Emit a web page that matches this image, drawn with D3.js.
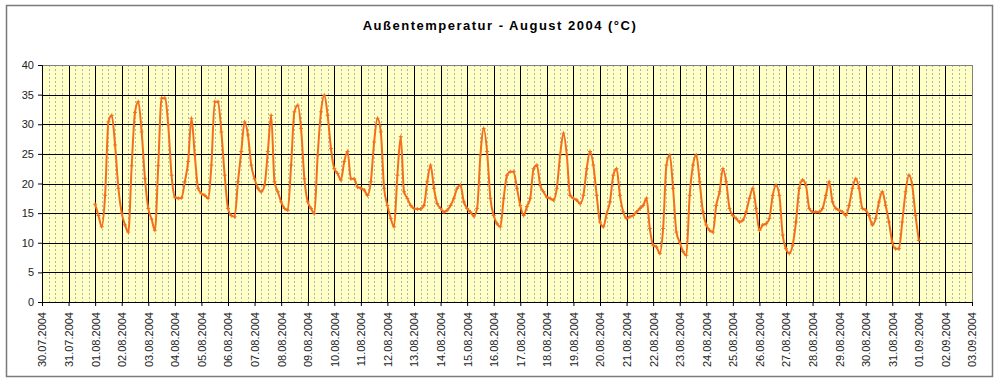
<!DOCTYPE html>
<html>
<head>
<meta charset="utf-8">
<script src="https://cdn.jsdelivr.net/npm/d3@7"></script>
<style>
  body { margin: 0; background: #fff; }
  svg { display: block; font-family: Arial, "Liberation Sans", sans-serif; }
</style>
</head>
<body>
<svg id="chart" width="1000" height="382"></svg>
<script>
// chart data
var title = "Außentemperatur - August 2004 (°C)";
var dayLabels = ["30.07.2004","31.07.2004","01.08.2004","02.08.2004","03.08.2004","04.08.2004",
  "05.08.2004","06.08.2004","07.08.2004","08.08.2004","09.08.2004","10.08.2004","11.08.2004",
  "12.08.2004","13.08.2004","14.08.2004","15.08.2004","16.08.2004","17.08.2004","18.08.2004",
  "19.08.2004","20.08.2004","21.08.2004","22.08.2004","23.08.2004","24.08.2004","25.08.2004",
  "26.08.2004","27.08.2004","28.08.2004","29.08.2004","30.08.2004","31.08.2004","01.09.2004",
  "02.09.2004","03.09.2004"];
var yTicks = [0, 5, 10, 15, 20, 25, 30, 35, 40];
var startDay = 2;      // readings start on 01.08.2004 00:00
var stepHours = 3;     // one reading every 3 hours
// temperature readings, every 3 hours from 01.08.2004 00:00
var temps = [
  16.5, 14.6, 12.7, 18.0, 30.4, 31.5, 26.5, 19.2,
  15.0, 13.0, 11.8, 23.0, 32.0, 33.8, 28.7, 20.8,
  15.8, 14.0, 12.1, 23.0, 34.4, 34.4, 29.9, 21.4,
  17.7, 17.5, 17.6, 20.3, 23.7, 31.0, 24.8, 19.2,
  18.3, 18.0, 17.5, 23.1, 33.8, 33.8, 28.7, 21.4,
  15.8, 14.6, 14.4, 20.3, 25.4, 30.4, 28.2, 23.1,
  20.8, 19.2, 18.6, 19.7, 25.4, 31.5, 20.3, 18.6,
  16.9, 15.8, 15.5, 23.1, 32.1, 33.2, 29.3, 20.8,
  16.9, 15.8, 14.9, 24.8, 32.1, 34.9, 31.5, 25.9,
  22.5, 21.7, 20.6, 23.7, 25.4, 20.8, 20.8, 19.4,
  19.2, 18.9, 18.0, 20.3, 27.0, 31.0, 28.7, 19.2,
  16.3, 14.1, 12.7, 21.4, 27.9, 18.6, 17.5, 16.3,
  15.8, 15.7, 15.7, 16.3, 20.3, 23.1, 19.2, 16.6,
  15.8, 15.2, 15.5, 16.3, 17.5, 19.2, 19.7, 16.9,
  15.8, 15.2, 14.5, 15.8, 24.8, 29.3, 25.4, 17.5,
  14.6, 13.2, 12.7, 17.5, 21.4, 22.0, 22.0, 19.2,
  16.3, 14.6, 16.1, 17.5, 22.5, 23.1, 19.7, 18.6,
  17.7, 17.5, 17.2, 19.2, 24.8, 28.5, 24.8, 18.0,
  17.5, 17.2, 16.6, 18.0, 22.5, 25.4, 23.1, 18.0,
  13.5, 12.7, 14.9, 16.9, 21.4, 22.5, 18.0, 15.2,
  14.1, 14.4, 14.6, 15.2, 15.8, 16.3, 17.5, 12.4,
  9.6, 9.3, 8.2, 12.4, 23.1, 24.8, 19.2, 11.8,
  10.1, 8.5, 7.9, 18.0, 23.1, 24.8, 20.3, 15.2,
  13.0, 12.1, 11.8, 16.3, 18.6, 22.5, 20.3, 15.8,
  14.6, 14.1, 13.5, 13.8, 15.2, 17.5, 19.2, 15.8,
  12.1, 13.0, 13.2, 14.1, 18.0, 19.7, 18.0, 11.3,
  9.0, 8.2, 9.6, 13.5, 19.2, 20.6, 19.7, 15.8,
  15.2, 15.2, 15.2, 15.8, 18.0, 20.3, 16.9, 15.8,
  15.5, 15.2, 14.6, 16.3, 19.2, 20.8, 19.2, 15.8,
  15.5, 14.6, 13.0, 14.1, 16.9, 18.6, 16.3, 13.5,
  10.1, 9.0, 9.0, 13.5, 18.6, 21.4, 19.7, 14.6,
  10.4
];

var lineColor = "#f36f1c";
var plotBg = "#ffffc8";

var svg = d3.select("#chart");
var margin = {left: 42, right: 28, top: 65, bottom: 80};
var width = 1000 - margin.left - margin.right,
    height = 382 - margin.top - margin.bottom;

// outer frame
svg.append("rect")
  .attr("x", 6.5).attr("y", 5.5)
  .attr("width", 986).attr("height", 371)
  .attr("fill", "#fff")
  .attr("stroke", "#7a7a7a")
  .attr("stroke-width", 1.5);

svg.append("text")
  .attr("x", 500).attr("y", 30)
  .attr("text-anchor", "middle")
  .style("font-size", "13px")
  .style("font-weight", "bold")
  .style("letter-spacing", "1.5px")
  .attr("fill", "#000")
  .text(title);

var x = d3.scaleLinear().domain([0, dayLabels.length - 1]).range([0, width]);
var y = d3.scaleLinear().domain([0, 40]).range([height, 0]);

var g = svg.append("g")
  .attr("transform", "translate(" + margin.left + "," + margin.top + ")");

g.append("rect")
  .attr("width", width).attr("height", height)
  .attr("fill", plotBg);

// minor vertical grid every 6 hours (dotted)
var minor = [];
d3.range(dayLabels.length - 1).forEach(function(d) {
  minor.push(d + 0.25, d + 0.5, d + 0.75);
});
g.selectAll(".minor")
  .data(minor)
  .enter().append("line")
  .attr("class", "minor")
  .attr("x1", function(d) { return Math.round(x(d)) + 0.5; })
  .attr("x2", function(d) { return Math.round(x(d)) + 0.5; })
  .attr("y1", 0).attr("y2", height)
  .attr("stroke", "#b4b4a4")
  .attr("stroke-width", 1)
  .attr("stroke-dasharray", "2,2");

// major grid
g.selectAll(".vmajor")
  .data(d3.range(1, dayLabels.length - 1))
  .enter().append("line")
  .attr("x1", function(d) { return Math.round(x(d)) + 0.5; })
  .attr("x2", function(d) { return Math.round(x(d)) + 0.5; })
  .attr("y1", 0).attr("y2", height)
  .attr("stroke", "#000")
  .attr("stroke-width", 1);
g.selectAll(".hmajor")
  .data(yTicks.slice(1, -1))
  .enter().append("line")
  .attr("x1", 0).attr("x2", width)
  .attr("y1", function(d) { return Math.round(y(d)) + 0.5; })
  .attr("y2", function(d) { return Math.round(y(d)) + 0.5; })
  .attr("stroke", "#000")
  .attr("stroke-width", 1);

// plot border
g.append("rect")
  .attr("x", 0.5).attr("y", 0.5)
  .attr("width", width).attr("height", height)
  .attr("fill", "none")
  .attr("stroke", "#808080");

// temperature line
var pts = temps.map(function(v, i) {
  return {t: startDay + i * stepHours / 24, v: v};
});
var line = d3.line()
  .x(function(d) { return x(d.t); })
  .y(function(d) { return y(d.v); })
  .curve(d3.curveMonotoneX);

g.append("path")
  .datum(pts)
  .attr("d", line)
  .attr("fill", "none")
  .attr("stroke", lineColor)
  .attr("stroke-width", 2)
  .attr("stroke-linejoin", "round");

// "+" markers like the sampled readings
g.selectAll(".mark")
  .data(pts)
  .enter().append("path")
  .attr("class", "mark")
  .attr("transform", function(d) { return "translate(" + x(d.t) + "," + y(d.v) + ")"; })
  .attr("d", "M-2,0H2M0,-2V2")
  .attr("stroke", lineColor)
  .attr("stroke-width", 1);

// axes
var yAxis = d3.axisLeft(y).tickValues(yTicks).tickSize(4).tickPadding(4);
g.append("g")
  .attr("class", "axis y")
  .call(yAxis);

var xAxis = d3.axisBottom(x)
  .tickValues(d3.range(dayLabels.length))
  .tickFormat(function(d) { return dayLabels[d]; })
  .tickSize(4);
var xg = g.append("g")
  .attr("class", "axis x")
  .attr("transform", "translate(0," + height + ")")
  .call(xAxis);
xg.selectAll("text")
  .attr("transform", "rotate(-90)")
  .attr("x", -10).attr("y", 0)
  .attr("dy", "0.35em")
  .style("text-anchor", "end");

svg.selectAll(".axis text")
  .style("font-size", "11px")
  .attr("fill", "#222");
svg.selectAll(".axis path, .axis line")
  .attr("stroke", "#000");
</script>
</body>
</html>
